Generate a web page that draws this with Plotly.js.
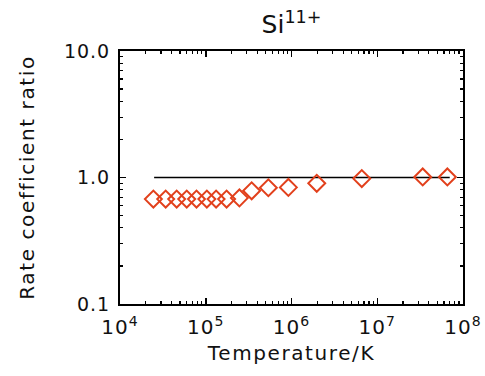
<!DOCTYPE html>
<html><head><meta charset="utf-8">
<script src="https://cdn.plot.ly/plotly-3.0.1.min.js"></script>
<style>
body{margin:0;background:#fff}#c{width:485px;height:376px}
#c .xtitle, #c .ytitle {letter-spacing:1.6px}
#c .xtick text, #c .ytick text {letter-spacing:1px}
</style>
</head><body><div id="c"></div>
<script>
const temperature = [2.45e4, 3.41e4, 4.58e4, 6.0e4, 7.8e4, 1.03e5, 1.32e5, 1.75e5, 2.47e5, 3.43e5, 5.37e5, 9.2e5, 1.97e6, 6.6e6, 3.39e7, 6.57e7];
const ratio = [0.675, 0.675, 0.675, 0.675, 0.675, 0.675, 0.675, 0.675, 0.69, 0.785, 0.83, 0.835, 0.90, 0.98, 1.01, 1.01];
const refLineX = [2.5e4, 7.0e7];
const refLineY = [1.0, 1.0];
const xTickVals = [1e4, 1e5, 1e6, 1e7, 1e8];
const xTickText = ['10<sup>4</sup>', '10<sup>5</sup>', '10<sup>6</sup>', '10<sup>7</sup>', '10<sup>8</sup>'];
const yTickVals = [0.1, 1, 10];
const yTickText = ['0.1', '1.0', '10.0'];

function minorVals(lo, hi) {
  const out = [];
  for (let e = lo; e < hi; e++) for (let d = 2; d <= 9; d++) out.push(d * Math.pow(10, e));
  return out;
}

const font = {family: 'DejaVu Sans, sans-serif', color: '#111'};
const axisCommon = {
  type: 'log', showline: true, linecolor: '#000', linewidth: 2, mirror: 'allticks',
  ticks: 'inside', ticklen: 6, tickwidth: 1.5, tickcolor: '#000', showgrid: false, zeroline: false,
  tickfont: Object.assign({size: 19}, font)
};

Plotly.newPlot('c', [
  {x: refLineX, y: refLineY, mode: 'lines', line: {color: '#000', width: 1.5}, hoverinfo: 'skip'},
  {x: temperature, y: ratio, mode: 'markers',
   marker: {symbol: 'diamond-open', size: 13, color: '#e2401c', line: {width: 2, color: '#e2401c'}}}
], {
  width: 485, height: 376, showlegend: false,
  paper_bgcolor: '#fff', plot_bgcolor: '#fff',
  margin: {l: 120, r: 22, t: 51, b: 72},
  title: {text: 'Si<sup>11+</sup>', xref: 'paper', x: 0.5, xanchor: 'center', yref: 'container', y: 0.935, yanchor: 'middle', font: Object.assign({size: 25}, font)},
  xaxis: Object.assign({}, axisCommon, {
    range: [4, 8], tickmode: 'array', tickvals: xTickVals, ticktext: xTickText,
    ticklabelstandoff: 4, tickfont: Object.assign({size: 20}, font),
    minor: {tickmode: 'array', tickvals: minorVals(4, 8), ticks: 'inside', ticklen: 3, tickwidth: 1.2, tickcolor: '#000', showgrid: false},
    title: {text: 'Temperature/K', font: Object.assign({size: 20}, font), standoff: 8}
  }),
  yaxis: Object.assign({}, axisCommon, {
    range: [-1, 1], tickmode: 'array', tickvals: yTickVals, ticktext: yTickText,
    ticklabelstandoff: 4,
    minor: {tickmode: 'array', tickvals: minorVals(-1, 1), ticks: 'inside', ticklen: 3, tickwidth: 1.2, tickcolor: '#000', showgrid: false},
    title: {text: 'Rate coefficient ratio', font: Object.assign({size: 20}, font), standoff: 28}
  })
}, {staticPlot: true});
</script></body></html>
